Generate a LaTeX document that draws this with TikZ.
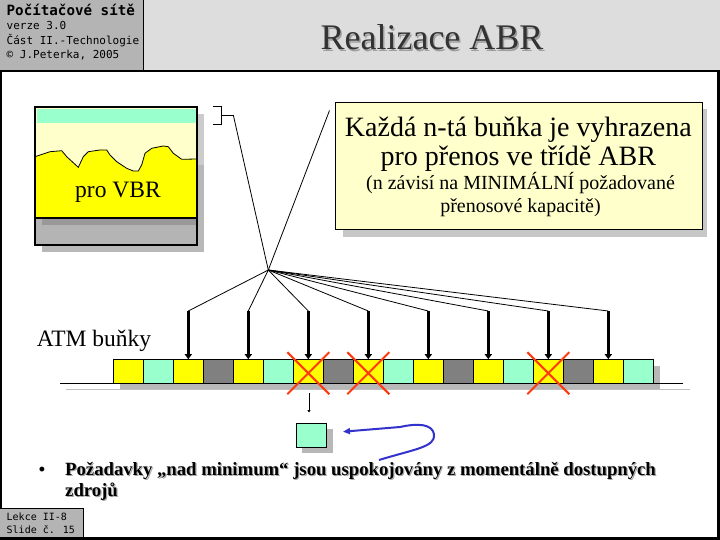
\documentclass[tikz,border=0pt]{standalone}
\usepackage{fontspec}
\setmainfont{Liberation Serif}
\newfontfamily\monof{DejaVu Sans Mono}
\usetikzlibrary{arrows.meta}
\definecolor{tealc}{HTML}{99FFCC}
\definecolor{lyel}{HTML}{FFFFCC}
\definecolor{yelc}{HTML}{FFFF00}
\definecolor{grayc}{HTML}{808080}
\definecolor{hdrgray}{HTML}{B4B4B4}
\definecolor{titlegray}{HTML}{DDDDDD}
\definecolor{shadowc}{HTML}{B8B8B8}
\definecolor{redx}{HTML}{FF3A10}
\definecolor{bluec}{HTML}{3333CC}
\definecolor{Y}{HTML}{FFFF00}
\definecolor{T}{HTML}{99FFCC}
\definecolor{G}{HTML}{808080}
\tikzset{
  cellbox/.style={draw=black, line width=1pt, minimum width=30pt, minimum height=24pt, inner sep=0pt, outer sep=0pt},
  thickarrow/.style={line width=2.4pt, -{Triangle[length=5pt,width=7pt]}},
  hubline/.style={line width=0.8pt},
  crossline/.style={draw=redx, line width=2pt},
  monotext/.style={anchor=base west, inner sep=0pt, font=\monof\fontsize{11}{12}\selectfont},
}
\begin{document}
\begin{tikzpicture}[x=1pt,y=-1pt]
\useasboundingbox (0,0) rectangle (720,540);
% header
\fill[hdrgray] (0,0) rectangle (143.5,71);
\fill[titlegray] (143.5,0) rectangle (720,71);
\draw[line width=1.5pt] (143.5,0) -- (143.5,71);
\draw[line width=2.5pt] (1,71) rectangle (718.7,538.5);
\node[anchor=base west, inner sep=0pt, font=\monof\bfseries\fontsize{14.2}{16}\selectfont] (h1) at (6.5,15.7) {Počítačové sítě};
\node[monotext] (h2) at (6.5,30) {verze 3.0};
\node[monotext] (h3) at (6.5,44.3) {Část II.-Technologie};
\node[monotext] (h4) at (6.5,59) {© J.Peterka, 2005};
\node[anchor=base, inner sep=0pt, text=black!38, font=\fontsize{36}{40}\selectfont] (titlesh) at (433.5,51.5) {Realizace ABR};
\node[anchor=base, inner sep=0pt, text=black!80, font=\fontsize{36}{40}\selectfont] (title) at (432,50) {Realizace ABR};
% footer
\fill[hdrgray] (0,508) rectangle (83.5,537);
\draw[line width=1pt] (0,508) -- (83.5,508) -- (83.5,537);
\node[anchor=base west, inner sep=0pt, font=\monof\fontsize{10}{11}\selectfont] (f1) at (6.5,520.7) {Lekce II-8};
\node[anchor=base west, inner sep=0pt, font=\monof\fontsize{10}{11}\selectfont] (f2) at (6.5,533.3) {Slide č. 15};
% VBR box
\fill[shadowc] (42,114) rectangle (204,252);
\fill[black!20] (197,114) rectangle (204,165);
\fill[lyel] (35,107) rectangle (197,218);
\fill[tealc] (37,109) rectangle (196,123);
\fill[yelc] (35,218) -- (35,156.7) -- (50,151.7) .. controls (56,150.5) .. (61.7,150.7) -- (66.7,156.7) -- (78.3,167.3) -- (83.3,156.7) -- (88.3,151.7) -- (100,150) -- (106.7,150) -- (110,155) -- (116.7,161.7) -- (126.7,168.3) -- (133.3,171) -- (138.3,171) -- (141.7,165) -- (145,153.3) -- (151.7,148.3) -- (163.3,146) -- (168.3,146.7) -- (173.3,153.3) -- (181.7,159.3) -- (197,159) -- (197,218) -- cycle;
\draw[line width=0.8pt] (35,156.7) -- (50,151.7) .. controls (56,150.5) .. (61.7,150.7) -- (66.7,156.7) -- (78.3,167.3) -- (83.3,156.7) -- (88.3,151.7) -- (100,150) -- (106.7,150) -- (110,155) -- (116.7,161.7) -- (126.7,168.3) -- (133.3,171) -- (138.3,171) -- (141.7,165) -- (145,153.3) -- (151.7,148.3) -- (163.3,146) -- (168.3,146.7) -- (173.3,153.3) -- (181.7,159.3) -- (197,159);
\fill[hdrgray] (35,218) rectangle (197,245);
\fill[black!40] (42,218) rectangle (197,225);
\draw[line width=1.2pt] (35,107) rectangle (197,245);
\draw[line width=1.2pt] (35,218) -- (197,218);
\node[anchor=base, inner sep=0pt, font=\fontsize{23.5}{26}\selectfont] (vbr) at (118,198) {pro VBR};
% ABR box
\fill[black!22] (342.7,108.7) rectangle (707,236.7);
\node[draw=black, line width=1pt, fill=lyel, anchor=north west, minimum width=366.7pt, minimum height=127.6pt, inner sep=0pt] (abr) at (335,101.7) {};
\node[anchor=base, inner sep=0pt, font=\fontsize{28}{30}\selectfont] (a1) at (518.3,137) {Každá n-tá buňka je vyhrazena};
\node[anchor=base, inner sep=0pt, font=\fontsize{28}{30}\selectfont] (a2) at (518.3,165.5) {pro přenos ve třídě ABR};
\node[anchor=base, inner sep=0pt, font=\fontsize{20}{22}\selectfont] (a3) at (520.5,190) {(n závisí na MINIMÁLNÍ požadované};
\node[anchor=base, inner sep=0pt, font=\fontsize{20}{22}\selectfont] (a4) at (520.5,213) {přenosové kapacitě)};
% bracket
\coordinate (br) at (233.3,115);
\draw[line width=0.8pt] (213.3,106.7) -- (221.7,106.7) -- (221.7,124.3) -- (213.3,124.3);
\draw[line width=0.8pt] (221.7,115) -- (br);
% cells
\node[anchor=base west, inner sep=0pt, font=\fontsize{23.5}{26}\selectfont] (atm) at (36.7,346.7) {ATM buňky};
\fill[shadowc] (120,366) rectangle (660,389.3);
\draw[line width=1pt, black!25] (66,389.3) -- (690,389.3);
\foreach \c [count=\k from 0] in {Y,T,Y,G,Y,T,Y,G,Y,T,Y,G,Y,T,Y,G,Y,T} {
  \node[cellbox, fill=\c] (c\k) at (128.3+30*\k, 371.2) {};
}
\draw[line width=1pt] (60,383.3) -- (683.3,383.3);
% hub and arrows
\coordinate (hub) at (268.3,270);
\coordinate (corner) at (329.5,110.5);
\draw[hubline] (hub) -- (br);
\draw[hubline] (hub) -- (corner);
\foreach \k in {2,4,...,16} {
  \coordinate (t\k) at (128.3+30*\k, 311);
  \draw[hubline] (hub) -- (t\k);
  \draw[thickarrow] (t\k) -- (c\k.north);
}
% red crosses
\foreach \k in {6,8,14} {
  \draw[crossline] ([shift={(-21,-19)}]c\k.center) -- ([shift={(21,23)}]c\k.center);
  \draw[crossline] ([shift={(21,-19)}]c\k.center) -- ([shift={(-21,23)}]c\k.center);
}
% request box
\fill[shadowc] (302,429.3) rectangle (332.5,452.7);
\node[cellbox, fill=tealc, anchor=north west, minimum width=30.5pt, minimum height=24pt] (rq) at (296,423.3) {};
\coordinate (q1) at (309,393.3);
\coordinate (q2) at (309,412.5);
\draw[line width=1pt, -{Triangle[length=2.5pt,width=3pt]}] (q1) -- (q2);
\coordinate (b0) at (379,460);
\coordinate (b1) at (343,431.7);
\draw[bluec, line width=2pt, -{Triangle[length=7pt,width=6pt]}] (b0) .. controls (415,449) and (436,447) .. (434,434) .. controls (432,424) and (418,423) .. (400,427) -- (b1);
% bullet
\node[anchor=base, inner sep=0pt, font=\bfseries\fontsize{18}{20}\selectfont] (bul) at (42,475.7) {•};
\node[anchor=base west, inner sep=0pt, text=black!35, font=\bfseries\fontsize{18.7}{20}\selectfont] (b1s) at (66.2,476.9) {Požadavky „nad minimum“ jsou uspokojovány z momentálně dostupných};
\node[anchor=base west, inner sep=0pt, font=\bfseries\fontsize{18.7}{20}\selectfont] (bt1) at (65,475.7) {Požadavky „nad minimum“ jsou uspokojovány z momentálně dostupných};
\node[anchor=base west, inner sep=0pt, text=black!35, font=\bfseries\fontsize{18.7}{20}\selectfont] (b2s) at (66.2,497.9) {zdrojů};
\node[anchor=base west, inner sep=0pt, font=\bfseries\fontsize{18.7}{20}\selectfont] (bt2) at (65,496.7) {zdrojů};
\end{tikzpicture}
\end{document}
